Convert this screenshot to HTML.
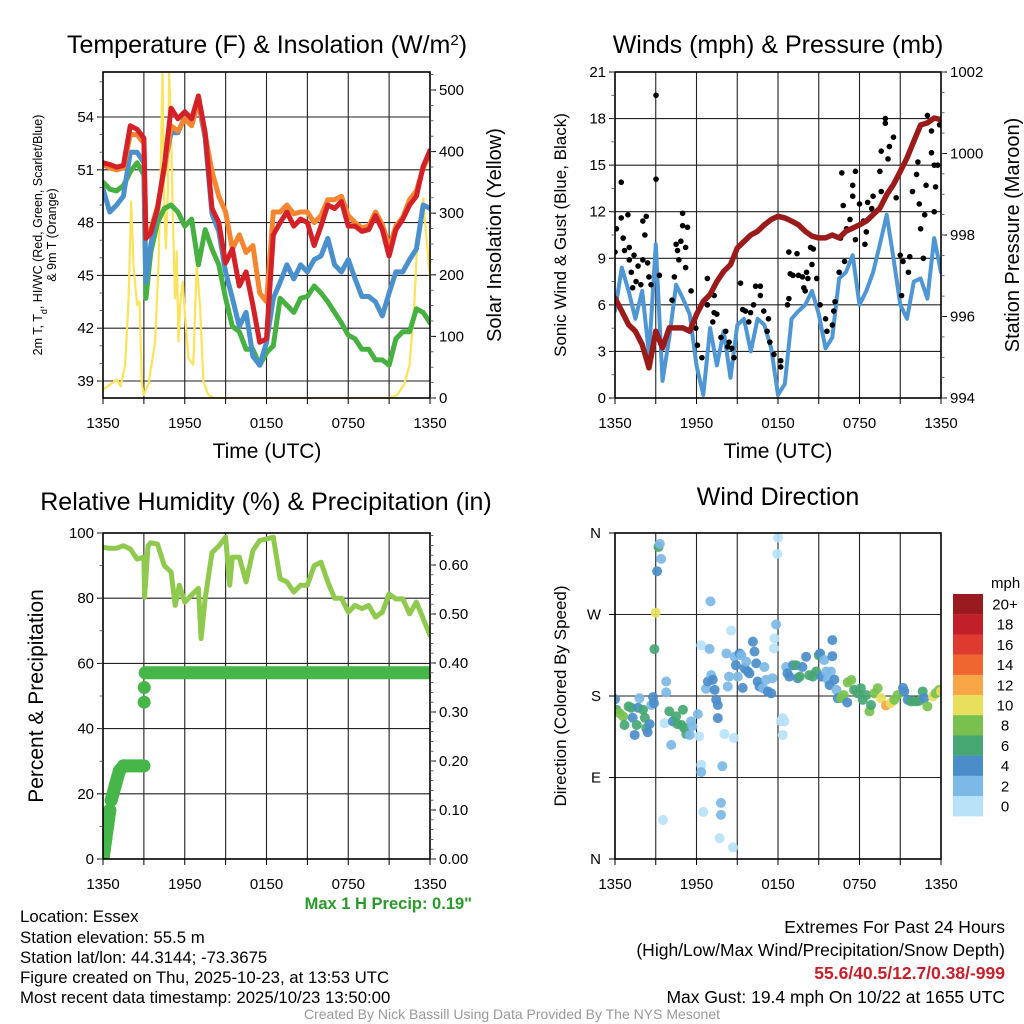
<!DOCTYPE html>
<html><head><meta charset="utf-8"><title>Mesonet Meteogram - Essex</title>
<style>
html,body{margin:0;padding:0;background:#fff;}
svg{display:block;font-family:"Liberation Sans",Arial,sans-serif;}
</style></head>
<body>
<svg id="fig" width="1024" height="1024" viewBox="0 0 1024 1024" xmlns="http://www.w3.org/2000/svg">
<defs>
<clipPath id="c1"><rect x="103" y="72" width="327" height="326"/></clipPath>
<clipPath id="c2"><rect x="615" y="72" width="326" height="326"/></clipPath>
<clipPath id="c3"><rect x="103" y="533" width="327" height="326"/></clipPath>
<clipPath id="c4"><rect x="615" y="533" width="326" height="326"/></clipPath>
</defs>
<rect width="1024" height="1024" fill="#fff"/>
<!-- titles -->
<text x="267" y="53" font-size="25" text-anchor="middle">Temperature (F) &amp; Insolation (W/m<tspan baseline-shift="super" font-size="15">2</tspan>)</text>
<text x="778" y="53" font-size="25" text-anchor="middle">Winds (mph) &amp; Pressure (mb)</text>
<text x="266" y="510" font-size="25" text-anchor="middle">Relative Humidity (%) &amp; Precipitation (in)</text>
<text x="778" y="505" font-size="25" text-anchor="middle">Wind Direction</text>
<!-- axis titles -->
<text transform="translate(42,235) rotate(-90)" font-size="12.5" text-anchor="middle">2m T, T<tspan baseline-shift="sub" font-size="9">d</tspan>, HI/WC (Red, Green, Scarlet/Blue)</text>
<text transform="translate(56,235) rotate(-90)" font-size="12.5" text-anchor="middle">&amp; 9m T (Orange)</text>
<text transform="translate(501,235) rotate(-90)" font-size="20" text-anchor="middle">Solar Insolation (Yellow)</text>
<text x="267" y="458" font-size="21" text-anchor="middle">Time (UTC)</text>
<text transform="translate(566,235) rotate(-90)" font-size="17" text-anchor="middle">Sonic Wind &amp; Gust (Blue, Black)</text>
<text transform="translate(1019,235) rotate(-90)" font-size="20" text-anchor="middle">Station Pressure (Maroon)</text>
<text x="778" y="458" font-size="21" text-anchor="middle">Time (UTC)</text>
<text transform="translate(43,696) rotate(-90)" font-size="21" text-anchor="middle">Percent &amp; Precipitation</text>
<text transform="translate(566,696) rotate(-90)" font-size="17" text-anchor="middle">Direction (Colored By Speed)</text>
<text x="472" y="909" font-size="16.5" font-weight="bold" fill="#2a9a2a" text-anchor="end">Max 1 H Precip: 0.19"</text>
<!-- station info -->
<g font-size="16.8">
<text x="20" y="922">Location: Essex</text>
<text x="20" y="943">Station elevation: 55.5 m</text>
<text x="20" y="963">Station lat/lon: 44.3144; -73.3675</text>
<text x="20" y="983">Figure created on Thu, 2025-10-23, at 13:53 UTC</text>
<text x="20" y="1003">Most recent data timestamp: 2025/10/23 13:50:00</text>
</g>
<g font-size="17.5" text-anchor="end">
<text x="1005" y="933">Extremes For Past 24 Hours</text>
<text x="1005" y="956">(High/Low/Max Wind/Precipitation/Snow Depth)</text>
<text x="1005" y="979" fill="#c8202a" font-weight="bold">55.6/40.5/12.7/0.38/-999</text>
<text x="1005" y="1003">Max Gust: 19.4 mph On 10/22 at 1655 UTC</text>
</g>
<text x="512" y="1019" font-size="14" fill="#999" text-anchor="middle">Created By Nick Bassill Using Data Provided By The NYS Mesonet</text>
<g id="layer"></g>
</svg>
<script>
// ---------- data ----------
const tempHours = [0,0.5,1,1.5,2,2.5,3,3.15,3.5,4,4.5,5,5.5,6,6.5,7,7.5,8,8.5,9,9.5,10,10.5,11,11.5,12,12.5,13,13.5,14,14.5,15,15.5,16,16.5,17,17.5,18,18.5,19,19.5,20,20.5,21,21.5,22,22.5,23,23.5,24];
const tempRed = [51.4,51.3,51.15,51.25,53.5,53.3,52.8,47.1,47.4,48.8,51.2,54.5,53.9,54.3,53.9,55.2,53.1,48.8,48.0,45.7,46.5,44.4,45.2,43.3,41.2,41.4,47.3,48.0,48.6,47.8,48.2,48.0,46.7,47.8,49.0,48.8,49.2,47.8,47.8,47.5,47.6,48.4,47.6,46.1,47.6,48.2,49.0,49.5,51.2,52.1];
const tempOrange = [51.3,51.1,51.0,51.1,53.0,53.0,52.5,47.5,47.6,48.9,51.0,53.5,53.2,53.9,53.5,54.9,53.0,50.9,49.5,48.6,46.5,47.3,46.3,46.7,44.0,43.5,48.6,48.6,49.0,48.5,48.6,48.6,48.0,48.4,49.3,49.3,49.5,48.4,48.0,47.7,47.8,48.6,47.9,46.6,47.8,48.3,49.3,49.8,51.1,51.9];
const tempBlue = [49.9,48.6,49.0,49.5,52.0,52.0,51.4,44.6,46.7,48.8,51.2,53.1,53.1,54.0,53.6,54.8,52.8,48.5,47.5,45.2,43.7,42.1,42.9,40.4,39.9,41.2,43.7,44.6,45.6,44.8,45.6,45.2,45.9,46.1,47.1,45.6,45.2,45.9,44.8,43.8,43.8,43.5,42.7,44.0,45.2,45.2,45.9,46.5,49.0,48.8];
const tempGreen = [50.3,49.9,49.8,50.1,50.9,51.4,50.7,43.7,46.3,48.0,48.8,49.0,48.6,47.8,48.2,45.6,47.6,46.5,45.6,43.7,42.1,41.8,40.8,40.8,39.9,40.6,41.0,43.7,43.3,42.9,43.7,43.8,44.4,44.0,43.5,42.9,42.3,41.6,41.4,40.8,40.8,40.2,40.2,39.9,41.4,41.8,41.8,43.1,42.9,42.3];
const solarHours = [0,0.54,1.02,1.3,1.63,1.88,2.07,2.24,2.5,2.68,2.85,2.98,3.34,3.83,4.07,4.24,4.37,4.49,4.61,4.76,4.85,5.0,5.12,5.29,5.41,5.54,5.66,5.85,6.02,6.27,6.63,6.88,7.12,7.37,7.73,8.1,21.0,21.6,22.1,22.5,22.85,23.1,23.5,23.7,24];
const solarVals = [14,22,30,19,54,162,319,216,151,157,27,5,22,92,216,378,529,324,243,335,529,432,292,162,238,92,151,189,135,65,54,216,151,27,5,0,0,5,22,54,151,270,324,270,194];
const windHours = [0,0.5,1,1.5,2,2.5,3,3.5,4,4.5,5,5.5,6,6.5,7,7.5,8,8.5,9,9.5,10,10.5,11,11.5,12,12.5,13,13.5,14,14.5,15,15.5,16,16.5,17,17.5,18,18.5,19,19.5,20,20.5,21,21.5,22,22.5,23,23.5,24];
const pressureMb = [996.45,996.13,995.8,995.64,995.31,994.74,995.64,995.23,995.72,995.72,995.72,995.64,996.05,996.37,996.54,996.86,997.11,997.27,997.68,997.84,998.0,998.09,998.25,998.38,998.46,998.42,998.34,998.25,998.09,997.97,997.93,997.93,998.0,997.93,998.09,998.17,998.25,998.34,998.5,998.66,998.99,999.24,999.56,999.89,1000.3,1000.7,1000.75,1000.87,1000.83];
const windMph = [5.6,8.4,6.9,5.1,6.9,2.8,9.9,1.1,3.9,7.3,6.4,5.4,2.1,0.2,4.5,2.1,4.3,1.3,4.7,5.1,3.0,5.1,4.7,3.2,0.2,0.9,5.1,5.6,6.0,6.9,5.4,3.2,3.9,7.7,8.1,9.2,6.0,6.9,8.1,9.9,11.8,9.0,6.0,5.1,7.5,7.7,6.4,10.3,8.1];
const gustHours = [3.02,3.02,0.46,0,0.1,0.46,0.95,0.6,0.7,1.05,1.05,1.4,1.7,1.2,2.05,2.3,2.2,2.05,2.4,2.5,1.55,1.9,1.3,2.65,3.27,4.98,4.98,5.34,4.5,4.6,4.85,5.2,4.7,5.2,4.37,4.2,5.6,5.95,6.07,6.4,6.8,6.8,7.3,7.3,7.5,7.2,7.8,8.15,8.4,8.3,8.76,8.6,9.24,9.4,9.6,9.98,9.85,10.2,10.35,10.7,10.7,10.95,11.3,11.2,11.4,11.7,12.2,12.2,12.8,12.9,13.1,13.4,13.5,13.8,14.1,14.2,13.9,14.0,14.4,14.6,14.5,14.85,12.8,12.7,15.1,15.5,15.6,16.0,16.1,16.2,16.5,16.6,16.7,16.8,16.9,17.05,17.3,17.5,17.7,17.5,17.7,18.0,18.3,18.4,18.5,18.6,18.9,19.0,19.5,19.6,19.6,19.9,19.9,20.1,20.2,20.5,20.7,21.0,21.1,21.2,21.6,21.7,21.9,22.2,22.3,22.4,22.5,22.8,22.9,23.0,23.3,23.3,23.5,23.6,23.75,23.9,23.5,22.7];
const gustMph = [19.5,14.1,13.9,9.4,10.9,11.6,11.8,10.3,9.5,9.7,8.9,9.2,8.5,8.1,11.4,11.7,10.5,8.9,8.7,7.8,7.5,7.3,7.1,7.3,7.9,11.9,11.1,11.0,9.9,9.5,10.1,9.7,8.9,8.4,7.8,6.3,6.9,4.5,3.4,2.6,7.7,6.0,6.6,5.5,5.4,4.9,3.9,4.3,3.6,3.3,2.6,3.2,7.4,5.7,5.6,5.5,4.9,6.0,7.2,7.2,6.6,5.6,5.1,4.3,3.6,2.8,2.4,2.0,9.4,8.0,7.9,9.3,7.9,7.8,8.1,7.7,7.1,6.9,9.7,9.6,8.6,7.7,6.4,6.0,6.0,5.1,4.3,4.7,5.6,6.2,8.1,10.3,14.5,12.4,8.8,10.9,11.5,13.0,14.6,13.7,10.2,12.5,11.4,9.9,10.7,12.6,12.2,13.0,14.6,15.9,13.3,18.0,17.7,15.4,16.2,16.8,12.9,9.2,6.6,8.8,8.1,9.1,13.3,14.4,15.2,12.5,10.9,11.8,13.7,18.2,17.2,15.8,15.0,13.6,15.0,17.6,12.0,9.0];
const rhHours = [0,0.5,1,1.5,2,2.5,3,3.05,3.3,3.5,4,4.5,5,5.3,5.6,6,6.5,7,7.2,7.5,8,8.5,9,9.3,9.5,10,10.5,11,11.5,12,12.5,13,13.5,14,14.5,15,15.5,16,16.5,17,17.5,18,18.5,19,19.5,20,20.5,21,21.5,22,22.5,23,23.5,24];
const rhPct = [95.6,95.3,95.3,96.1,95.1,92,92.6,80.3,96,97,96.6,90,88,77.8,84,78.8,81,83,67.6,80,94,96,98.7,84,92.6,92.6,85,94.6,97.7,98.2,98.7,86,85,81.9,84,84,90,91,85,80,80,75.7,77.8,76.8,77.8,74.2,75.7,81.3,79.8,79.8,75.2,78.8,73.7,68.6];
const precipHours = [0,0.1,0.2,0.35,0.5,0.6,0.9,1.2,1.5,3.0,3.02,3.03,3.1,24];
const precipIn = [0,0.02,0.04,0.07,0.1,0.12,0.15,0.18,0.19,0.19,0.32,0.35,0.38,0.38];
const dirHours = [0,0.1,0.34,0.6,0.7,1.0,1.2,1.3,1.45,1.6,1.7,1.8,2.06,2.2,2.3,2.4,2.55,2.67,2.8,2.87,2.9,3.0,3.1,3.2,3.3,3.4,3.53,3.65,3.77,3.77,4.0,4.14,4.26,4.5,4.6,4.9,5.0,5.1,5.25,5.5,5.6,5.7,6.1,6.2,6.35,6.35,6.35,6.5,6.7,6.84,6.96,7.03,7.08,7.2,7.33,7.45,7.57,7.57,7.7,7.8,7.8,7.9,8.06,8.2,8.3,8.4,8.55,8.68,8.75,8.8,8.9,9.04,9.17,9.3,9.4,9.53,9.66,9.78,9.9,10.15,10.27,10.4,10.5,10.64,10.9,11.0,11.13,11.25,11.5,11.6,11.7,11.74,11.86,11.94,12.0,12.23,12.35,12.35,12.48,12.6,12.7,12.84,13.1,13.33,13.45,13.6,13.8,14.07,14.3,14.56,14.8,15.0,15.1,15.2,15.4,15.55,15.66,15.8,15.9,16.0,16.0,16.15,16.3,16.4,16.64,16.84,17.1,17.13,17.4,17.6,17.87,18.1,18.24,18.5,18.73,18.85,19.1,19.34,19.58,19.95,20.3,20.56,20.8,21.2,21.3,21.55,21.8,22.16,22.4,22.65,22.77,23.0,23.4,23.6,23.87,24];
const dirDeg = [176.5,164.8,161,157.5,148,168.5,167,156,137,148,167,177.6,164.8,156,144.6,140,149,170,178.7,172,231.8,272,317.8,344.6,348,331.4,43,150,196,184,163,126,152,157.5,149,148,164.8,144.6,138,137,152,146.5,160,135.5,236,104,96,52,188,196,232,284.5,203,198,186.8,175.8,170,155.6,23,62,48.7,102.5,138,227,190.4,201.4,252.3,12.8,133.7,223.4,214,201.4,227,225,189,210.6,218,207,205,240,229,216,196,190.4,188.6,212,198,185,183,199.6,232.5,243.5,259,337,355,152,155.6,137,152,212,205,201.4,214,214,199.6,201.4,212,223.4,203,201.4,207,225,227,201.4,219.7,207,198,192,207,241.7,224,198,186.8,177.6,177.6,181,172.8,195,197.7,186.8,183,188.6,175.8,181,163,170,183,188.6,177.6,169.5,172,175.8,181,189,185,175.8,174,174,174.7,185,177.6,168.5,179.4,183,186.8,185];
const dirSpeed = [4,6,8,8,6,6,6,4,4,6,4,2,6,6,6,4,4,2,4,4,6,10,4,6,2,2,0,0,2,2,6,2,4,6,6,6,6,6,6,2,2,2,2,0,0,0,2,0,2,4,2,2,2,4,4,4,4,4,0,2,2,2,0,2,2,2,0,0,0,2,4,2,4,2,4,4,2,4,4,4,4,4,4,4,2,2,2,4,4,2,0,0,2,0,0,0,0,0,0,2,4,4,4,6,4,6,4,4,6,6,6,6,4,4,2,2,2,4,2,4,4,4,2,4,8,8,4,8,8,6,6,6,6,6,8,6,8,8,10,12,10,8,8,4,4,4,6,6,6,6,4,8,10,8,8,10];
const timeTickHours = [0,6,12,18,24];
const timeTickLabels = ["1350","1950","0150","0750","1350"];
const tempTicks = [39,42,45,48,51,54];
const solarTicks = [0,100,200,300,400,500];
const windTicks = [0,3,6,9,12,15,18,21];
const pressTicks = [994,996,998,1000,1002];
const rhTicks = [0,20,40,60,80,100];
const precipTicks = [0,0.1,0.2,0.3,0.4,0.5,0.6];
const dirTicks = [0,90,180,270,360];
const dirTickLabels = ["N","E","S","W","N"];
const speedBins = ["20+","18","16","14","12","10","8","6","4","2","0"];
const speedColors = ["#9a1b1f","#c1202a","#df3a2f","#ef6631","#f8a646","#e8e05c","#78c14f","#47a773","#4a8dc9","#7cb9e6","#b7e2f7"];

// ---------- helpers ----------
const NS = "http://www.w3.org/2000/svg";
const layer = document.getElementById("layer");
function mk(tag, attrs, parent){
  const el = document.createElementNS(NS, tag);
  for (const k in attrs) el.setAttribute(k, attrs[k]);
  (parent || layer).appendChild(el);
  return el;
}
function lin(d0,d1,r0,r1){ return v => r0 + (v-d0)*(r1-r0)/(d1-d0); }
function pathFrom(xs, ys, fx, fy){
  let d = "";
  for (let i=0;i<xs.length;i++) d += (i?"L":"M") + fx(xs[i]).toFixed(1) + "," + fy(ys[i]).toFixed(1);
  return d;
}
function colorForSpeed(s){
  const idx = Math.min(10, Math.max(0, Math.floor((s+1)/2)));
  return speedColors[10-idx];
}

const P = [
  {x0:103,x1:430,y0:72,y1:398,clip:"c1",name:"temperature"},
  {x0:615,x1:941,y0:72,y1:398,clip:"c2",name:"wind"},
  {x0:103,x1:430,y0:533,y1:859,clip:"c3",name:"humidity"},
  {x0:615,x1:941,y0:533,y1:859,clip:"c4",name:"direction"}
];
const xS = P.map(p => lin(0,24,p.x0,p.x1));
const yTemp = lin(39,54,381,117);
const ySolar = lin(0,500,398,90);
const yWind = lin(0,21,398,72);
const yPress = lin(994,1002,398,72);
const yRH = lin(0,100,859,533);
const yPrecip = lin(0,0.6,859,565);
const yDir = lin(0,360,859,533);

function drawFrameAndGrid(pi, hVals, yf){
  const p = P[pi];
  const g = mk("g", {});
  
  
  for (let h=3; h<24; h+=3){
    const x = xS[pi](h);
    mk("line",{x1:x,x2:x,y1:p.y0,y2:p.y1,stroke:"#222","stroke-width":1.1}, g);
  }
  hVals.forEach(v => {
    const y = yf(v);
    if (y>p.y0+1 && y<p.y1-1) mk("line",{x1:p.x0,x2:p.x1,y1:y,y2:y,stroke:"#222","stroke-width":1.1}, g);
  });
  const ax = mk("g", {});
  
  
  for (let h=0; h<=24; h+=3){
    const x = xS[pi](h);
    mk("line",{x1:x,x2:x,y1:p.y1,y2:p.y1+6,stroke:"#000","stroke-width":1}, ax);
  }
  timeTickHours.forEach((h,i) => {
    const t = mk("text",{x:xS[pi](h),y:p.y1+30,"font-size":15,"text-anchor":"middle"}, ax);
    t.textContent = timeTickLabels[i];
  });
}
function frame(pi){
  const p = P[pi];
  const r = mk("rect",{x:p.x0,y:p.y0,width:p.x1-p.x0,height:p.y1-p.y0,fill:"none",stroke:"#000","stroke-width":1.6});
  
  
}
function yAxis(pi, side, vals, yf, fmt, minorStep, name){
  const p = P[pi];
  const g = mk("g", {});
  
  
  const x = side==="left" ? p.x0 : p.x1;
  const dir = side==="left" ? -1 : 1;
  vals.forEach(v => {
    const y = yf(v);
    mk("line",{x1:x,x2:x+dir*6,y1:y,y2:y,stroke:"#000","stroke-width":1}, g);
    const t = mk("text",{x:x+dir*9,y:y+5,"font-size":15,"text-anchor":side==="left"?"end":"start"}, g);
    t.textContent = fmt(v);
  });
  if (minorStep){
    for (let v=vals[0]-minorStep*4; v<=vals[vals.length-1]+minorStep*4; v+=minorStep){
      const y = yf(v);
      if (y<p.y0 || y>p.y1) continue;
      mk("line",{x1:x,x2:x+dir*3.5,y1:y,y2:y,stroke:"#444","stroke-width":0.8}, g);
    }
  }
}

// ---------- Panel 1 ----------
drawFrameAndGrid(0, tempTicks, yTemp);
{
  const g = mk("g",{"clip-path":"url(#c1)"});
  
  
  const sol = mk("path",{d:pathFrom(solarHours, solarVals, xS[0], ySolar),fill:"none",stroke:"#fde35a","stroke-width":2.2,"stroke-linejoin":"round"}, g);
  
  
  const gr = mk("path",{d:pathFrom(tempHours, tempGreen, xS[0], yTemp),fill:"none",stroke:"#46b040","stroke-width":5,"stroke-linejoin":"round","stroke-linecap":"round"}, g);
  
  
  const bl = mk("path",{d:pathFrom(tempHours, tempBlue, xS[0], yTemp),fill:"none",stroke:"#4a90cc","stroke-width":5,"stroke-linejoin":"round","stroke-linecap":"round"}, g);
  
  
  const or = mk("path",{d:pathFrom(tempHours, tempOrange, xS[0], yTemp),fill:"none",stroke:"#f5862f","stroke-width":5,"stroke-linejoin":"round","stroke-linecap":"round"}, g);
  
  
  const rd = mk("path",{d:pathFrom(tempHours, tempRed, xS[0], yTemp),fill:"none",stroke:"#d42128","stroke-width":5,"stroke-linejoin":"round","stroke-linecap":"round"}, g);
  
  
}
frame(0);
yAxis(0,"left",tempTicks,yTemp,v=>String(v),1,"temperature-y-axis");
yAxis(0,"right",solarTicks,ySolar,v=>String(v),25,"insolation-y-axis");

// ---------- Panel 2 ----------
drawFrameAndGrid(1, windTicks, yWind);
{
  const g = mk("g",{"clip-path":"url(#c2)"});
  
  
  const wl = mk("path",{d:pathFrom(windHours, windMph, xS[1], yWind),fill:"none",stroke:"#4f97d4","stroke-width":4,"stroke-linejoin":"round","stroke-linecap":"round"}, g);
  
  
  const gg = mk("g",{}, g);
  
  
  for (let i=0;i<gustHours.length;i++){
    const c = mk("circle",{cx:xS[1](gustHours[i]),cy:yWind(gustMph[i]),r:2.8,fill:"#000"}, gg);
    
    
  }
  const pl = mk("path",{d:pathFrom(windHours, pressureMb, xS[1], yPress),fill:"none",stroke:"#9b1b1b","stroke-width":5.5,"stroke-linejoin":"round","stroke-linecap":"round"}, g);
  
  
}
frame(1);
yAxis(1,"left",windTicks,yWind,v=>String(v),1.5,"wind-y-axis");
yAxis(1,"right",pressTicks,yPress,v=>String(v),0.5,"pressure-y-axis");

// ---------- Panel 3 ----------
drawFrameAndGrid(2, rhTicks, yRH);
{
  const g = mk("g",{"clip-path":"url(#c3)"});
  
  
  const rl = mk("path",{d:pathFrom(rhHours, rhPct, xS[2], yRH),fill:"none",stroke:"#8fca4f","stroke-width":5,"stroke-linejoin":"round","stroke-linecap":"round"}, g);
  
  
  const pg = mk("g",{}, g);
  
  
  for (let i=0;i<precipHours.length;i++){
    if (i>0 && precipHours[i]-precipHours[i-1] >= 0.1){
      const s = mk("line",{x1:xS[2](precipHours[i-1]),y1:yPrecip(precipIn[i-1]),x2:xS[2](precipHours[i]),y2:yPrecip(precipIn[i]),stroke:"#46b649","stroke-width":13,"stroke-linecap":"round"}, pg);
      
      
    }
    const c = mk("circle",{cx:xS[2](precipHours[i]),cy:yPrecip(precipIn[i]),r:6.5,fill:"#46b649"}, pg);
    
    
  }
}
frame(2);
yAxis(2,"left",rhTicks,yRH,v=>String(v),10,"humidity-y-axis");
yAxis(2,"right",precipTicks,yPrecip,v=>v.toFixed(2),0.02,"precipitation-y-axis");

// ---------- Panel 4 ----------
drawFrameAndGrid(3, dirTicks, yDir);
{
  const g = mk("g",{"clip-path":"url(#c4)"});
  
  
  for (let i=0;i<dirHours.length;i++){
    const c = mk("circle",{cx:xS[3](dirHours[i]),cy:yDir(dirDeg[i]),r:5,fill:colorForSpeed(dirSpeed[i]),"fill-opacity":0.92}, g);
    
    
  }
}
frame(3);
{
  const g = mk("g",{});
  
  
  dirTicks.forEach((v,i) => {
    const y = yDir(v);
    mk("line",{x1:P[3].x0,x2:P[3].x0-6,y1:y,y2:y,stroke:"#000","stroke-width":1}, g);
    const t = mk("text",{x:P[3].x0-14,y:y+5,"font-size":15,"text-anchor":"end"}, g);
    t.textContent = dirTickLabels[i];
  });
}
{
  const g = mk("g",{});
  
  
  const u = mk("text",{x:991,y:588,"font-size":15}, g);
  u.textContent = "mph";
  speedBins.forEach((lab,i) => {
    const y = 594 + i*20.2;
    const r = mk("rect",{x:953,y:y,width:30,height:20.4,fill:speedColors[i]}, g);
    
    
    const t = mk("text",{x:1005,y:y+15.5,"font-size":15,"text-anchor":"middle"}, g);
    t.textContent = lab;
  });
}
</script>
</body></html>
